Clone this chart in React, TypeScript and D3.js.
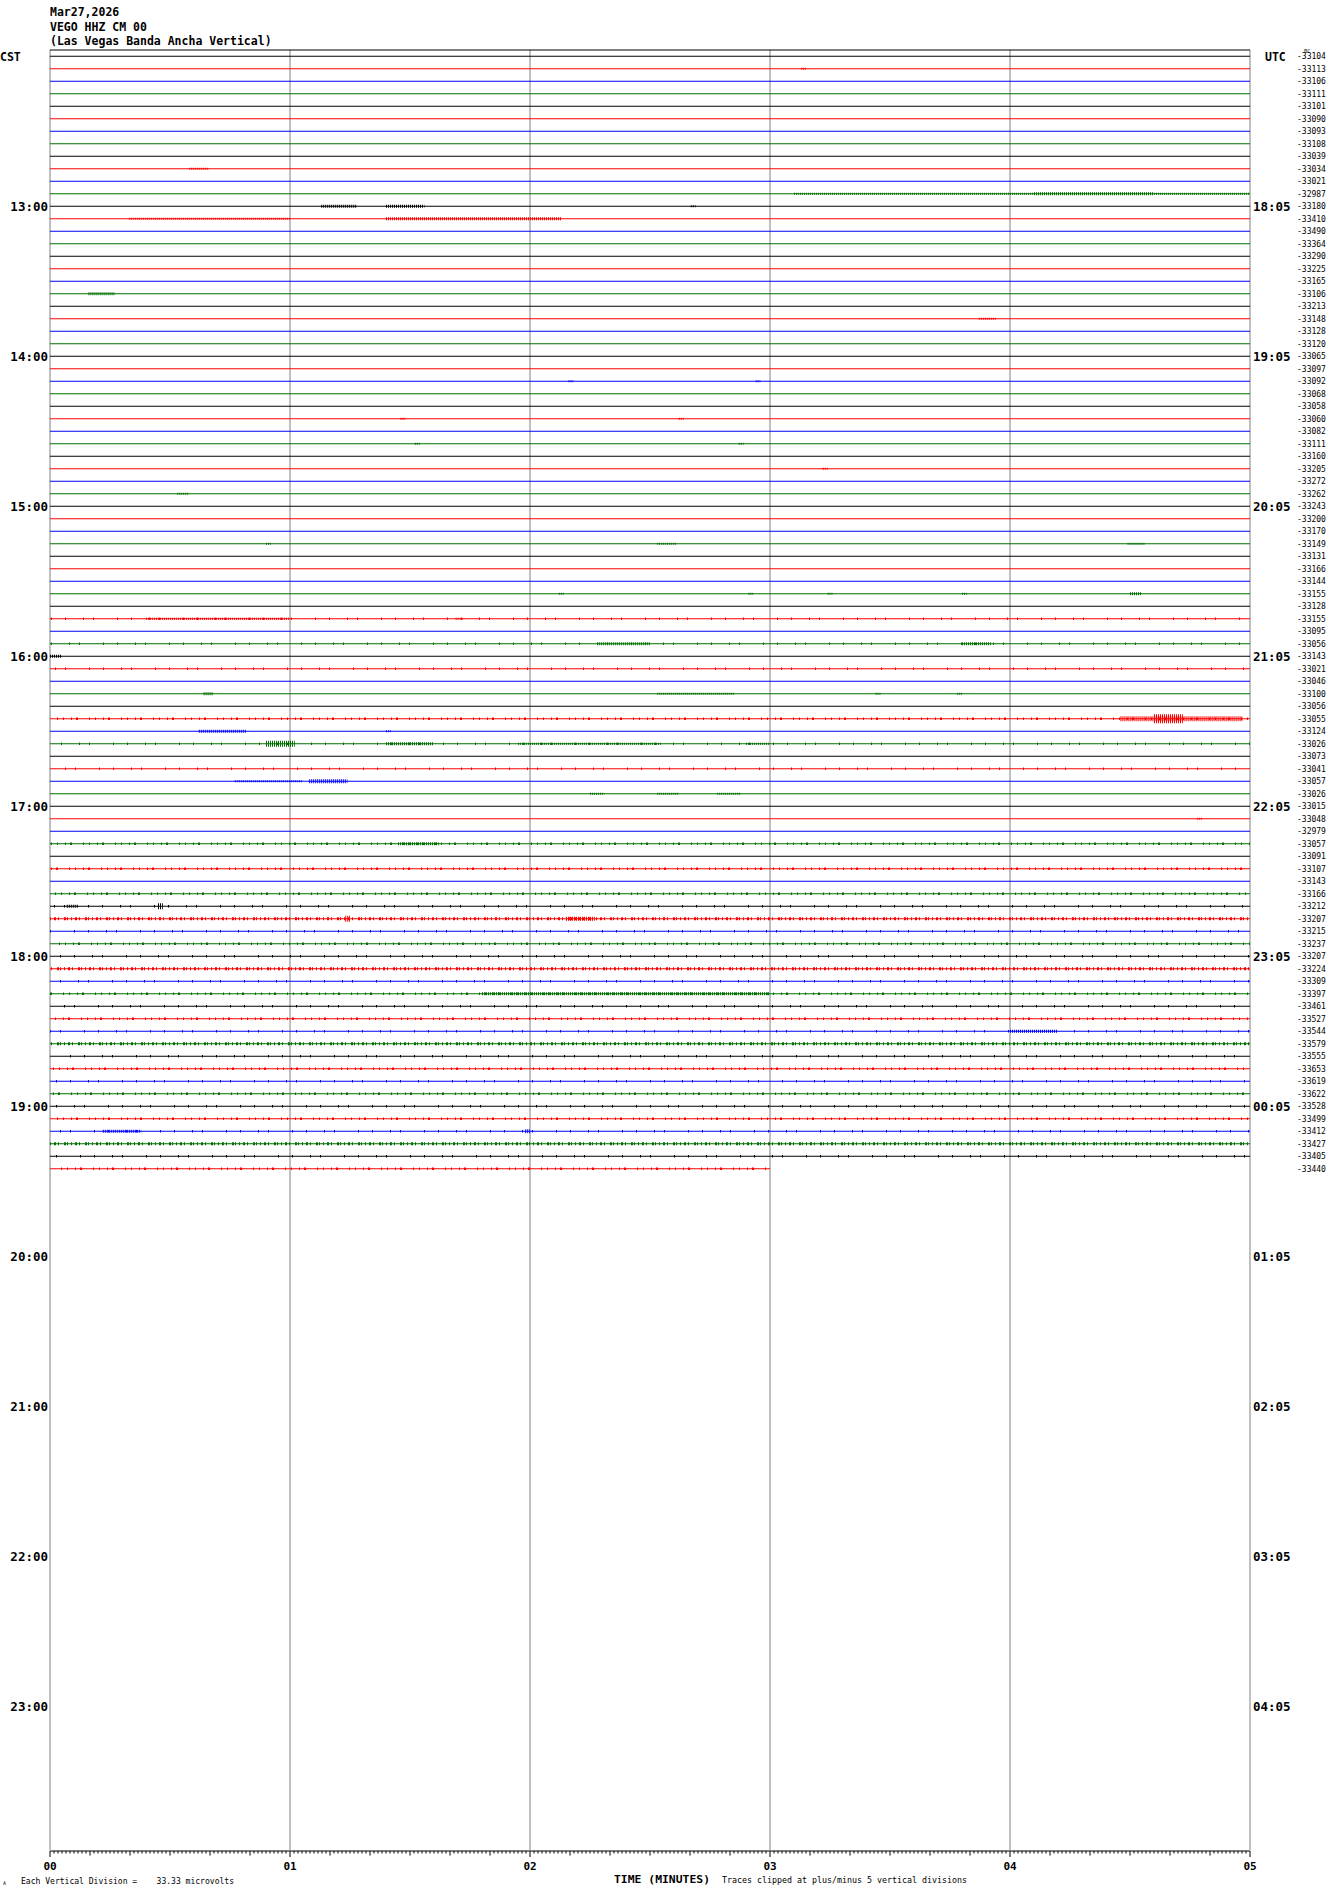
import React from 'react';
import * as d3 from 'd3';

// helicorder header
const titleLines = ['Mar27,2026', 'VEGO HHZ CM 00', '(Las Vegas Banda Ancha Vertical)'];
const minuteLabels = ['00', '01', '02', '03', '04', '05'];
const cstHours = ['13:00', '14:00', '15:00', '16:00', '17:00', '18:00', '19:00', '20:00', '21:00', '22:00', '23:00'];
const utcHours = ['18:05', '19:05', '20:05', '21:05', '22:05', '23:05', '00:05', '01:05', '02:05', '03:05', '04:05'];

// dc offset printed at the right of each 5-minute line
const offsets = [
    -33104, -33113, -33106, -33111, -33101, -33090, -33093, -33108, -33039, -33034, -33021, -32987,
    -33180, -33410, -33490, -33364, -33290, -33225, -33165, -33106, -33213, -33148, -33128, -33120,
    -33065, -33097, -33092, -33068, -33058, -33060, -33082, -33111, -33160, -33205, -33272, -33262,
    -33243, -33200, -33170, -33149, -33131, -33166, -33144, -33155, -33128, -33155, -33095, -33056,
    -33143, -33021, -33046, -33100, -33056, -33055, -33124, -33026, -33073, -33041, -33057, -33026,
    -33015, -33048, -32979, -33057, -33091, -33107, -33143, -33166, -33212, -33207, -33215, -33237,
    -33207, -33224, -33309, -33397, -33461, -33527, -33544, -33579, -33555, -33653, -33619, -33622,
    -33528, -33499, -33412, -33427, -33405, -33440,
];
const lastLineMinutes = 3; // the newest line stops here

// background noise per line: 0 quiet, 1 sparse, 2 moderate, 3 dense
const noiseLevel = [
    0, 0, 0, 0, 0, 0, 0, 0, 0, 0, 0, 0,
    0, 0, 0, 0, 0, 0, 0, 0, 0, 0, 0, 0,
    0, 0, 0, 0, 0, 0, 0, 0, 0, 0, 0, 0,
    0, 0, 0, 0, 0, 0, 0, 0, 0, 1, 0, 1,
    0, 1, 0, 0, 0, 2, 0, 1, 0, 1, 0, 0,
    0, 0, 0, 2, 0, 2, 0, 2, 1, 3, 1, 2,
    1, 3, 1, 2, 1, 2, 1, 3, 1, 2, 1, 2,
    1, 2, 1, 3, 1, 2,
];

// bursts: [line, start minute, end minute, half amplitude]
const bursts: [number, number, number, number][] = [
    [1, 3.13, 3.15, 1], [9, 0.58, 0.66, 1],
    [11, 3.1, 5.0, 1], [11, 4.1, 4.6, 1.5],
    [12, 1.13, 1.28, 1.5], [12, 1.4, 1.56, 1.5], [12, 2.67, 2.69, 1],
    [13, 0.33, 1.0, 1], [13, 1.4, 2.13, 1.5],
    [19, 0.16, 0.27, 1.5], [21, 3.87, 3.94, 1],
    [26, 2.16, 2.18, 1], [26, 2.94, 2.96, 1],
    [29, 1.46, 1.48, 1], [29, 2.62, 2.64, 1],
    [31, 1.52, 1.54, 1], [31, 2.87, 2.89, 1],
    [33, 3.22, 3.24, 1], [35, 0.53, 0.58, 1],
    [39, 0.9, 0.92, 1], [39, 2.53, 2.61, 1], [39, 4.49, 4.56, 1],
    [43, 2.12, 2.14, 1], [43, 2.91, 2.93, 1], [43, 3.24, 3.26, 1], [43, 3.8, 3.82, 1], [43, 4.5, 4.55, 1.5],
    [45, 0.4, 1.0, 1], [45, 1.69, 1.72, 1],
    [47, 2.28, 2.5, 1.5], [47, 3.8, 3.92, 1.5],
    [48, 0.0, 0.05, 1.5],
    [51, 0.64, 0.68, 1.5], [51, 2.53, 2.85, 1], [51, 3.44, 3.46, 1], [51, 3.78, 3.8, 1],
    [53, 4.46, 4.97, 2.5], [53, 4.6, 4.72, 4.5],
    [54, 0.62, 0.82, 1.5], [54, 1.4, 1.42, 1],
    [55, 0.9, 1.02, 3], [55, 1.4, 1.6, 1.5], [55, 1.95, 2.55, 1], [55, 2.9, 3.0, 1],
    [58, 0.77, 1.05, 1], [58, 1.08, 1.24, 2],
    [59, 2.25, 2.31, 1], [59, 2.53, 2.62, 1], [59, 2.78, 2.88, 1],
    [61, 4.78, 4.8, 1], [63, 1.45, 1.62, 1.5],
    [68, 0.07, 0.12, 1.5], [68, 0.45, 0.47, 3],
    [69, 1.23, 1.25, 3], [69, 2.15, 2.27, 2],
    [75, 1.8, 3.0, 1.5], [78, 4.0, 4.2, 1.5],
    [86, 0.22, 0.38, 1.5], [86, 1.98, 2.0, 2],
];

const lineColors = ['#000000', '#ff0000', '#0000ff', '#007000'];
const noiseDash = ['', '1 17 1 9 1 23 1 13', '1 7 1 4 2 11 1 5', '1 3 2 2 1 5 2 1 1 3'];
const noiseWidth = [0, 2.5, 2.5, 3];

const W = 1330, H = 1894;
const left = 50, right = 1250, top = 50, bottom = 1850;
const mono = '"DejaVu Sans Mono", monospace';

const App: React.FC = () => {
    const x = d3.scaleLinear().domain([0, 5]).range([left, right]);
    const y = d3.scaleLinear().domain([0, 144]).range([top, bottom]);
    const lineY = (i: number) => y(i + 0.5);
    const lineEnd = (i: number) => (i === offsets.length - 1 ? lastLineMinutes : 5);
    const seconds = d3.range(0, 301);

    return (
        <svg width={W} height={H} style={{ position: 'absolute', left: 0, top: 0, background: '#fff' }}
            fontFamily={mono}>
            <rect width={W} height={H} fill="#fff" />
            {titleLines.map((t, i) => (
                <text key={t} x={50} y={16 + i * 14.5} fontSize={11.5} fontWeight="bold">{t}</text>
            ))}
            <text x={0} y={61} fontSize={11.5} fontWeight="bold">CST</text>
            <text x={1265} y={61} fontSize={11.5} fontWeight="bold">UTC</text>
            <text x={1304} y={53} fontSize={5.5}>BC</text>

            {/* minute grid */}
            {minuteLabels.map((m, i) => (
                <line key={'g' + m} x1={x(i)} x2={x(i)} y1={top} y2={bottom} stroke="#808080" strokeWidth={1} />
            ))}
            <line x1={left} x2={right} y1={top} y2={top} stroke="#000" strokeWidth={1} />

            {/* traces */}
            {offsets.map((v, i) => {
                const c = lineColors[i % 4];
                const yy = lineY(i);
                const lvl = noiseLevel[i];
                return (
                    <g key={'t' + i}>
                        <line x1={x(0)} x2={x(lineEnd(i))} y1={yy} y2={yy} stroke={c} strokeWidth={1.2} />
                        {lvl > 0 && (
                            <line x1={x(0)} x2={x(lineEnd(i))} y1={yy} y2={yy} stroke={c}
                                strokeWidth={noiseWidth[lvl]} strokeDasharray={noiseDash[lvl]}
                                strokeDashoffset={i * 7} />
                        )}
                        <text x={1297} y={yy + 2.8} fontSize={8}>{v}</text>
                    </g>
                );
            })}
            {bursts.map(([i, t0, t1, a], k) => (
                <line key={'b' + k} x1={x(t0)} x2={Math.max(x(t1), x(t0) + 1)} y1={lineY(i)} y2={lineY(i)}
                    stroke={lineColors[i % 4]} strokeWidth={2 * a} strokeDasharray="1 1" />
            ))}

            {/* hour labels */}
            {cstHours.map((h, k) => (
                <text key={h} x={48} y={lineY(12 * (k + 1)) + 4.5} fontSize={12.5} fontWeight="bold"
                    textAnchor="end">{h}</text>
            ))}
            {utcHours.map((h, k) => (
                <text key={'u' + h} x={1253} y={lineY(12 * (k + 1)) + 4.5} fontSize={12.5}
                    fontWeight="bold">{h}</text>
            ))}

            {/* time axis */}
            <line x1={left} x2={right} y1={bottom + 1} y2={bottom + 1} stroke="#000" strokeWidth={1} />
            {seconds.map(s => (
                <line key={'s' + s} x1={x(s / 60)} x2={x(s / 60)} y1={bottom + 1}
                    y2={bottom + 1 + (s % 60 === 0 ? 6 : s % 10 === 0 ? 4.5 : 2.5)} stroke="#000" strokeWidth={1} />
            ))}
            {minuteLabels.map((m, i) => (
                <text key={'m' + m} x={x(i)} y={1870} fontSize={11} fontWeight="bold" textAnchor="middle">{m}</text>
            ))}
            <text x={3} y={1885} fontSize={5}>A</text>
            <text x={21} y={1884} fontSize={8} textLength={213} lengthAdjust="spacingAndGlyphs"
                style={{ whiteSpace: 'pre' }}>
                {'Each Vertical Division =    33.33 microvolts'}
            </text>
            <text x={614} y={1883} fontSize={11} fontWeight="bold" textLength={96}
                lengthAdjust="spacingAndGlyphs">TIME (MINUTES)</text>
            <text x={722} y={1883} fontSize={8} textLength={245}
                lengthAdjust="spacingAndGlyphs">Traces clipped at plus/minus 5 vertical divisions</text>
        </svg>
    );
};

export default App;
